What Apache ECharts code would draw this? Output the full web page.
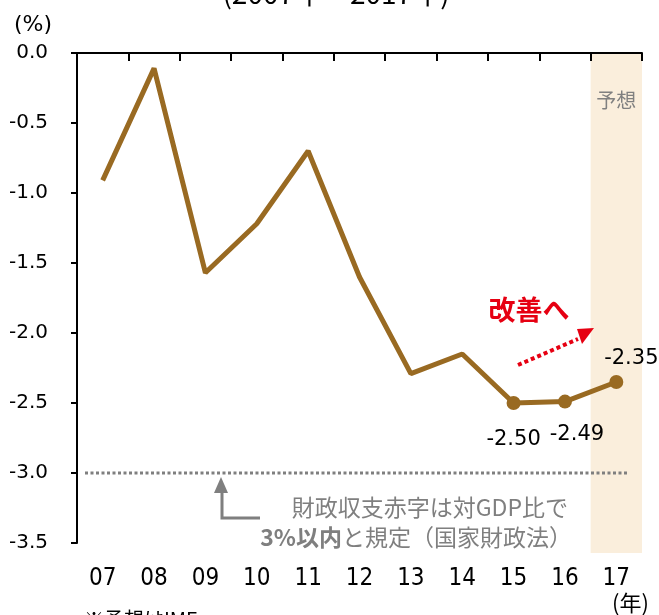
<!DOCTYPE html>
<html>
<head>
<meta charset="utf-8">
<script src="https://cdn.jsdelivr.net/npm/echarts@6/dist/echarts.min.js"></script>
<style>
html,body{margin:0;padding:0;background:#fff;}
#main{width:659px;height:615px;}
</style>
</head>
<body>
<div id="main"></div>
<script>
var years = ['07','08','09','10','11','12','13','14','15','16','17'];
var balance = [-0.91, -0.11, -1.57, -1.22, -0.70, -1.60, -2.29, -2.15, -2.50, -2.49, -2.35];
var yTicks = [0, -0.5, -1.0, -1.5, -2.0, -2.5, -3.0, -3.5];
var limitLine = -3.0;
var forecastYear = '17';

var lineColor = '#996a22';
var numFont = '"DejaVu Sans", Verdana, sans-serif';
var condFont = '"DejaVu Sans Condensed", "DejaVu Sans", sans-serif';
var jpFont = '"Noto Sans CJK JP", sans-serif';

// 15〜17年だけマーカーとラベルを付ける
var labelPos = {
	'15': {position: 'bottom', offset: [0, 7]},
	'16': {position: 'bottom', offset: [12, 3]},
	'17': {position: 'top', offset: [15, 6]}
};
var seriesData = [];
for (var i = 0; i < years.length; i++) {
	var item = {value: balance[i]};
	var lp = labelPos[years[i]];
	if (lp) {
		item.symbolSize = 14;
		item.label = {
			show: true, position: lp.position, offset: lp.offset, distance: 12,
			color: '#000', fontSize: 21, fontFamily: numFont,
			formatter: function (p) { return p.value.toFixed(2); }
		};
	} else {
		item.symbolSize = 0;
	}
	seriesData.push(item);
}

var chart = echarts.init(document.getElementById('main'));
var option = {
	animation: false,
	grid: {left: 77, right: 17, top: 53, bottom: 72},
	xAxis: [{
		type: 'category', data: years, position: 'top', boundaryGap: true,
		axisLine: {show: true, lineStyle: {color: '#000', width: 2}},
		axisTick: {show: true, inside: true, length: 8, lineStyle: {color: '#000', width: 2}},
		axisLabel: {show: false}
	}, {
		type: 'category', data: years, position: 'bottom', boundaryGap: true,
		axisLine: {show: false}, axisTick: {show: false},
		axisLabel: {color: '#000', fontSize: 24, fontFamily: condFont, margin: 24}
	}],
	yAxis: {
		type: 'value', min: -3.5, max: 0, interval: 0.5,
		axisLine: {show: true, lineStyle: {color: '#000', width: 2}},
		axisTick: {show: true, length: 6, lineStyle: {color: '#000', width: 2}},
		splitLine: {show: false},
		axisLabel: {
			color: '#000', fontSize: 20, fontFamily: numFont, margin: 29,
			formatter: function (v) { return yTicks.indexOf(v) >= 0 ? v.toFixed(1) : ''; }
		}
	},
	series: [{
		type: 'line', data: seriesData, xAxisIndex: 0,
		symbol: 'circle', showSymbol: true,
		lineStyle: {color: lineColor, width: 5},
		itemStyle: {color: lineColor},
		z: 3
	}]
};
chart.setOption(option);

// 予想帯と3%ラインの位置を軸から求める
var bandC = chart.convertToPixel({xAxisIndex: 0}, forecastYear);
var bandW = 51.4;
var axisTop = chart.convertToPixel({yAxisIndex: 0}, 0);
var axisBottom = chart.convertToPixel({yAxisIndex: 0}, -3.5);
var limitY = chart.convertToPixel({yAxisIndex: 0}, limitLine);

chart.setOption({
	graphic: [
		{type: 'rect', z: 0, silent: true,
			shape: {x: bandC - bandW / 2, y: axisTop + 1, width: bandW, height: axisBottom - axisTop + 9},
			style: {fill: '#faeedc'}},
		{type: 'line', z: 1, silent: true,
			shape: {x1: 85, y1: limitY, x2: 628, y2: limitY},
			style: {stroke: '#7f7f7f', lineWidth: 3, lineDash: [3, 2.5]}},
		{type: 'text', x: 336, y: -7,
			style: {text: '(2007年～2017年)', font: '28px ' + jpFont, fill: '#000', align: 'center', verticalAlign: 'middle'}},
		{type: 'text', x: 14, y: 25,
			style: {text: '(%)', font: '22px ' + numFont, fill: '#000', verticalAlign: 'middle'}},
		{type: 'text', x: 612, y: 592,
			style: {text: '(年)', font: '22px ' + jpFont, fill: '#000'}},
		{type: 'text', x: 84, y: 609,
			style: {text: '※予想はIMF', font: '20px ' + jpFont, fill: '#000'}},
		{type: 'text', x: bandC, y: 100, z: 5,
			style: {text: '予想', font: '20px ' + jpFont, fill: '#808080', align: 'center', verticalAlign: 'middle'}},
		{type: 'text', x: 529, y: 310, z: 5,
			style: {text: '改善へ', font: 'bold 27px ' + jpFont, fill: '#e60012', align: 'center', verticalAlign: 'middle'}},
		{type: 'line', z: 5, shape: {x1: 518, y1: 365, x2: 578, y2: 339},
			style: {stroke: '#e60012', lineWidth: 4, lineDash: [4, 3]}},
		{type: 'polygon', z: 5, shape: {points: [[577, 329], [594, 328], [582, 344]]},
			style: {fill: '#e60012'}},
		{type: 'polyline', z: 5, shape: {points: [[222, 490], [222, 518], [260, 518]]},
			style: {stroke: '#7f7f7f', lineWidth: 3, fill: null}},
		{type: 'polygon', z: 5, shape: {points: [[221, 477], [214, 493], [228, 493]]},
			style: {fill: '#7f7f7f'}},
		{type: 'text', x: 568, y: 507, z: 5,
			style: {text: '財政収支赤字は対GDP比で', font: '23px ' + jpFont, fill: '#7f7f7f', align: 'right', verticalAlign: 'middle'}},
		{type: 'text', x: 572, y: 537, z: 5,
			style: {
				text: '{b|3%以内}と規定（国家財政法）', align: 'right', verticalAlign: 'middle',
				font: '23px ' + jpFont, fill: '#7f7f7f',
				rich: {b: {fontWeight: 'bold', fontSize: 23, fontFamily: jpFont, fill: '#7f7f7f'}}
			}}
	]
});
</script>
</body>
</html>
